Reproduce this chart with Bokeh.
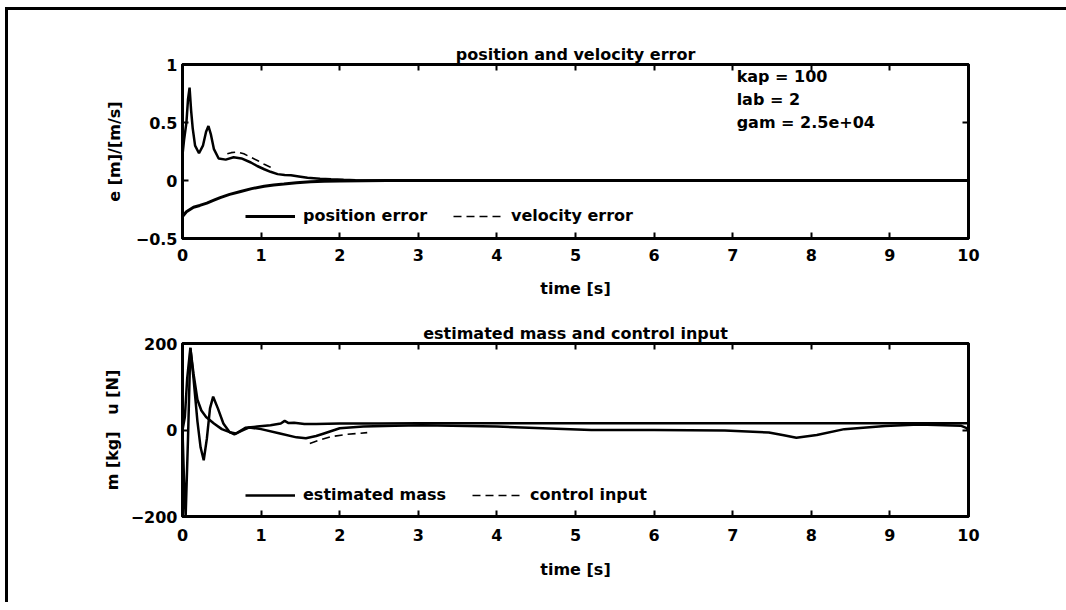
from bokeh.plotting import figure
from bokeh.models import (FixedTicker, Legend, LegendItem, Label, LinearAxis,
                          CustomJSTickFormatter, Range1d)
from bokeh.layouts import column
from bokeh.embed import file_html
from bokeh.resources import INLINE

# ---------------- data ----------------
x_ticks = [0, 1, 2, 3, 4, 5, 6, 7, 8, 9, 10]
top_y_ticks = [-0.5, 0, 0.5, 1]
bot_y_ticks = [-200, 0, 200]

# upper panel: oscillating error curve (solid)
err_a_t = [0, 0.02, 0.05, 0.07, 0.09, 0.11, 0.13, 0.16, 0.21, 0.26, 0.3, 0.33,
           0.36, 0.4, 0.46, 0.55, 0.65, 0.75, 0.87, 0.95, 1.04, 1.12, 1.21,
           1.3, 1.38, 1.48, 1.59, 1.75, 1.89, 2.05, 2.2, 2.5, 3, 10]
err_a = [0.22, 0.35, 0.5, 0.7, 0.8, 0.6, 0.45, 0.3, 0.235, 0.3, 0.42, 0.47,
         0.4, 0.27, 0.19, 0.18, 0.2, 0.19, 0.155, 0.125, 0.097, 0.075, 0.055,
         0.048, 0.045, 0.035, 0.023, 0.015, 0.01, 0.006, 0.003, 0.001, 0, 0]
# upper panel: position error (solid, negative)
pos_err_t = [0, 0.05, 0.14, 0.22, 0.31, 0.4, 0.48, 0.6, 0.74, 0.88, 1.04, 1.16,
             1.29, 1.45, 1.63, 1.8, 2.0, 2.3, 2.6, 3, 10]
pos_err = [-0.31, -0.27, -0.23, -0.215, -0.195, -0.17, -0.148, -0.12, -0.095,
           -0.07, -0.05, -0.038, -0.03, -0.02, -0.01, -0.006, -0.004, -0.002,
           -0.001, 0, 0]
# upper panel: velocity error (dashed, visible part)
vel_err_t = [0.57, 0.62, 0.7, 0.78, 0.87, 0.96, 1.04, 1.12, 1.17]
vel_err = [0.23, 0.24, 0.245, 0.23, 0.2, 0.17, 0.14, 0.115, 0.1]

params = ["kap = 100", "lab = 2", "gam = 2.5e+04"]
param_y = [0.9, 0.7, 0.5]

# lower panel: estimated mass (solid)
mass_t = [0, 0.03, 0.06, 0.1, 0.14, 0.19, 0.24, 0.3, 0.4, 0.5, 0.6, 0.68,
          0.8, 0.95, 1.12, 1.25, 1.3, 1.35, 1.42, 1.55, 1.7, 2.0, 2.5, 3, 10]
mass = [0, 30, 120, 190, 130, 70, 45, 30, 15, 2, -5, -8, 5, 8, 11, 15, 21, 16,
        17, 14, 14, 15, 15, 15.5, 15.5]
# lower panel: oscillating input curve (solid)
u_t = [0, 0.02, 0.04, 0.07, 0.1, 0.14, 0.19, 0.23, 0.27, 0.31, 0.35, 0.39,
       0.45, 0.52, 0.6, 0.66, 0.75, 0.85, 1.0, 1.24, 1.45, 1.57, 1.7, 1.8, 2.0,
       2.3, 2.7, 3.05, 4, 5.2, 6.0, 6.9, 7.46, 7.65, 7.81, 8.07, 8.42, 8.94,
       9.37, 9.9, 9.97, 10]
u = [0, -120, -200, -20, 190, 120, 20, -40, -70, -20, 50, 77, 50, 15, -5, -10,
     -2, 6, 2, -8, -17, -19, -14, -8, 4, 8, 10, 11, 8, 0, 0, -1, -6, -12, -18,
     -11.5, 2, 9, 13, 10, 5, 0]
# lower panel: control input (dashed, visible part)
ctrl_t = [1.62, 1.75, 1.9, 2.1, 2.35]
ctrl = [-31, -23, -15, -10, -6]

FONT = "DejaVu Sans"
FS = "16px"
LW = 2.5


def style(p, yticks, ylabel, y_std, x_std, x_lab_std):
    empty = CustomJSTickFormatter(code="return ''")
    xa = p.below[0]
    ya = p.left[0]
    for ax in (xa, ya):
        ax.axis_line_width = 3
        ax.major_tick_in = 6
        ax.major_tick_out = 0
        ax.major_tick_line_width = 2
        ax.minor_tick_line_color = None
        ax.major_label_text_font = FONT
        ax.major_label_text_font_style = "bold"
        ax.major_label_text_font_size = FS
        ax.major_label_text_color = "black"
        ax.axis_label_text_font = FONT
        ax.axis_label_text_font_style = "bold"
        ax.axis_label_text_font_size = FS
        ax.axis_label_text_color = "black"
    xa.ticker = FixedTicker(ticks=x_ticks)
    ya.ticker = FixedTicker(ticks=yticks)
    ya.axis_label = ylabel
    ya.major_label_standoff = 5
    ya.axis_label_standoff = y_std
    xa.axis_label = "time [s]"
    xa.major_label_standoff = x_std
    xa.axis_label_standoff = x_lab_std
    for loc, tk in (("right", yticks), ("above", x_ticks)):
        ax = LinearAxis(ticker=FixedTicker(ticks=tk), formatter=empty,
                        axis_line_width=3, major_tick_in=6, major_tick_out=0,
                        major_tick_line_width=2, minor_tick_line_color=None,
                        major_label_standoff=0,
                        major_label_text_font_size="1px")
        p.add_layout(ax, loc)
    p.xgrid.visible = False
    p.ygrid.visible = False
    p.outline_line_color = "black"
    p.outline_line_width = 3
    p.title.text_font = FONT
    p.title.text_font_style = "bold"
    p.title.text_font_size = FS
    p.title.text_color = "black"
    p.title.align = "center"
    p.title.standoff = 2


def legend(p, items, loc):
    lg = Legend(items=items, orientation="horizontal", location=loc,
                glyph_width=50, glyph_height=16, label_standoff=8, spacing=26,
                padding=0, margin=0, border_line_color=None,
                background_fill_alpha=0, label_text_font=FONT,
                label_text_font_style="bold", label_text_font_size=FS,
                label_text_color="black")
    p.add_layout(lg, "center")


W = 1066
p1 = figure(width=W, height=305, output_backend="svg", toolbar_location=None,
            x_range=Range1d(0, 10), y_range=Range1d(-0.5, 1),
            title="position and velocity error",
            min_border_left=182, min_border_right=98, min_border_top=64,
            min_border_bottom=67)
style(p1, top_y_ticks, "e [m]/[m/s]", 9, 10, 15)
ra = p1.line(err_a_t, err_a, line_color="black", line_width=LW)
rp = p1.line(pos_err_t, pos_err, line_color="black", line_width=3)
rv = p1.line(vel_err_t, vel_err, line_color="black", line_width=1.6,
             line_dash="8 5")
legend(p1, [LegendItem(label="position error", renderers=[rp]),
            LegendItem(label="velocity error", renderers=[rv])], (63, 13))
for txt, yy in zip(params, param_y):
    p1.add_layout(Label(x=7.05, y=yy, text=txt, text_font=FONT,
                        text_font_style="bold", text_font_size=FS,
                        text_baseline="middle", text_color="black"))

p2 = figure(width=W, height=305, output_backend="svg", toolbar_location=None,
            x_range=Range1d(0, 10), y_range=Range1d(-200, 200),
            title="estimated mass and control input",
            min_border_left=182, min_border_right=98, min_border_top=38,
            min_border_bottom=94)
style(p2, bot_y_ticks, "m [kg]\u00a0\u00a0\u00a0u [N]", 6, 12, 16)
rm = p2.line(mass_t, mass, line_color="black", line_width=LW)
ru = p2.line(u_t, u, line_color="black", line_width=LW)
rc = p2.line(ctrl_t, ctrl, line_color="black", line_width=1.6,
             line_dash="8 5")
legend(p2, [LegendItem(label="estimated mass", renderers=[rm]),
            LegendItem(label="control input", renderers=[rc])], (63, 12))

layout = column(p1, p2)

# page frame (top and left rule of the scanned page), drawn via the template
template = None
try:
    from bokeh.core.templates import get_env
    template = get_env().from_string(
        '{% extends "file.html" %}'
        '{% block inner_body %}'
        '<div style="position:absolute;left:5px;top:7px;width:1061px;'
        'height:3px;background:#000;z-index:10"></div>'
        '<div style="position:absolute;left:5px;top:7px;width:3px;'
        'height:595px;background:#000;z-index:10"></div>'
        '{{ super() }}'
        '{% endblock %}')
except Exception:
    template = None

if template is not None:
    html = file_html(layout, INLINE, template=template)
else:
    html = file_html(layout, INLINE)
open("out.html", "w").write(html)
